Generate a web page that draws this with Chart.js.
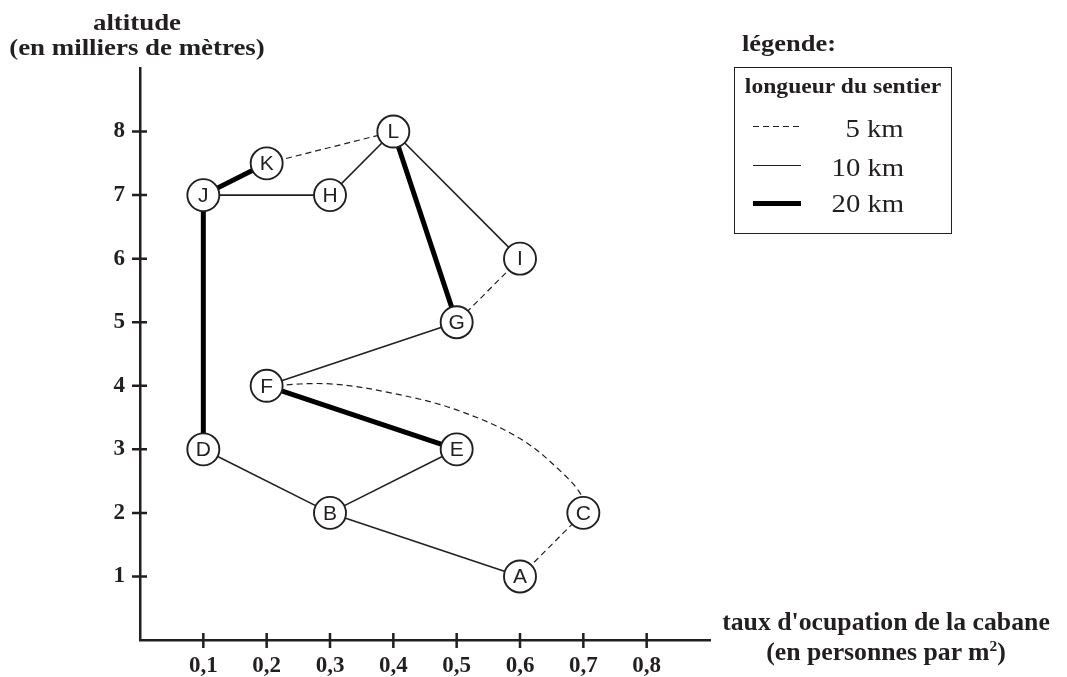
<!DOCTYPE html>
<html>
<head>
<meta charset="utf-8">
<script src="https://cdn.jsdelivr.net/npm/chart.js@4.4.1/dist/chart.umd.min.js"></script>
<style>
  html, body { margin: 0; padding: 0; background: #fff; }
  #wrap { position: relative; width: 1067px; height: 677px; overflow: hidden; }
  #chart { position: absolute; left: 0; top: 0; }
  .serif { position: absolute; font-family: "Liberation Serif", "DejaVu Serif", serif; color: #231f20; white-space: nowrap; }
  .b { font-weight: bold; }
  #yTitle { left: 0; top: 10px; width: 274px; text-align: center; font-size: 24px; line-height: 25px; transform: scaleX(1.12); }
  #xTitle { left: 716px; top: 607px; width: 340px; text-align: center; font-size: 25px; line-height: 30px; transform: scaleX(1.03); }
  #xTitle sup { font-size: 15px; line-height: 0; }
  #legTitle { left: 742px; top: 32px; font-size: 23px; line-height: 23px; transform: scaleX(1.15); transform-origin: left; }
  #legBox { position: absolute; left: 734px; top: 67px; width: 216px; height: 165px; border: 1.5px solid #231f20; }
  #legHead { left: 0; top: 8px; width: 216px; text-align: center; font-size: 20px; line-height: 20px; transform: scaleX(1.18); }
  .s { position: absolute; left: 18px; width: 48px; }
  .dash { height: 1.3px; background: repeating-linear-gradient(to right, #231f20 0 6px, transparent 6px 10px); }
  .l { right: 47px; font-size: 25px; line-height: 25px; transform: scaleX(1.15); transform-origin: right; }
</style>
</head>
<body>
<div id="wrap">
  <canvas id="chart" width="1067" height="677"></canvas>
  <div id="yTitle" class="serif b">altitude<br>(en milliers de mètres)</div>
  <div id="xTitle" class="serif b">taux d'ocupation de la cabane<br>(en personnes par m<sup>2</sup>)</div>
  <div id="legTitle" class="serif b">légende:</div>
  <div id="legBox">
    <div id="legHead" class="serif b">longueur du sentier</div>
    <div class="s dash" style="top:58px"></div>
    <div class="serif l" style="top:48px">5 km</div>
    <div class="s" style="top:97px;border-top:1.6px solid #231f20"></div>
    <div class="serif l" style="top:87px">10 km</div>
    <div class="s" style="top:133px;border-top:5px solid #000"></div>
    <div class="serif l" style="top:123px">20 km</div>
  </div>
</div>
<script>
// --- data ---
const nodeNames = ['A', 'B', 'C', 'D', 'E', 'F', 'G', 'H', 'I', 'J', 'K', 'L'];
const nodeOccupation = [0.6, 0.3, 0.7, 0.1, 0.5, 0.2, 0.5, 0.3, 0.6, 0.1, 0.2, 0.4];
const nodeAltitude = [1, 2, 2, 3, 3, 4, 5, 7, 6, 7, 7.5, 8];

// trails: [from, to, length in km]
const trails = [
  ['K', 'L', 5], ['J', 'K', 20], ['J', 'H', 10], ['H', 'L', 10],
  ['L', 'I', 10], ['L', 'G', 20], ['I', 'G', 5], ['F', 'G', 10],
  ['F', 'E', 20], ['D', 'J', 20], ['D', 'B', 10], ['B', 'E', 10],
  ['B', 'A', 10], ['A', 'C', 5]
];

// the curved 5 km trail from F to C
const curveOccupation = [0.2, 0.3, 0.4, 0.5, 0.6, 0.67, 0.7, 0.7];
const curveAltitude = [4.0, 4.03, 3.88, 3.62, 3.17, 2.6, 2.22, 2.0];

const xTickValues = [0.1, 0.2, 0.3, 0.4, 0.5, 0.6, 0.7, 0.8];
const yTickValues = [1, 2, 3, 4, 5, 6, 7, 8];

const INK = '#231f20';
const trailStyle = {
  5: { borderWidth: 1.2, borderDash: [6, 4], borderColor: INK },
  10: { borderWidth: 1.6, borderDash: [], borderColor: INK },
  20: { borderWidth: 5, borderDash: [], borderColor: '#000' }
};

function nodePoint(name) {
  const i = nodeNames.indexOf(name);
  return { x: nodeOccupation[i], y: nodeAltitude[i] };
}

const datasets = trails.map(([a, b, km]) => ({
  label: `${a}-${b}`,
  data: [nodePoint(a), nodePoint(b)],
  showLine: true,
  pointRadius: 0,
  order: 2,
  ...trailStyle[km]
}));

datasets.push({
  label: 'F-C',
  data: curveOccupation.map((x, i) => ({ x, y: curveAltitude[i] })),
  showLine: true,
  pointRadius: 0,
  tension: 0.35,
  order: 2,
  ...trailStyle[5]
});

datasets.push({
  label: 'cabanes',
  data: nodeNames.map(nodePoint),
  showLine: false,
  pointRadius: 16,
  pointBackgroundColor: '#fff',
  pointBorderColor: INK,
  pointBorderWidth: 1.9,
  order: 0
});

// letters inside the circles + tick marks crossing the axes
const nodeLabels = {
  id: 'nodeLabels',
  afterDatasetsDraw(chart) {
    const ctx = chart.ctx;
    const meta = chart.getDatasetMeta(chart.data.datasets.length - 1);
    ctx.save();
    ctx.font = '21px "Liberation Sans", Arial, sans-serif';
    ctx.fillStyle = INK;
    ctx.textAlign = 'center';
    ctx.textBaseline = 'middle';
    meta.data.forEach((pt, i) => ctx.fillText(nodeNames[i], pt.x, pt.y + 1));
    ctx.restore();
  },
  afterDraw(chart) {
    const { ctx, scales: { x, y } } = chart;
    ctx.save();
    ctx.strokeStyle = INK;
    ctx.lineWidth = 2.5;
    ctx.beginPath();
    xTickValues.forEach(v => {
      const px = x.getPixelForValue(v);
      ctx.moveTo(px, y.bottom - 7);
      ctx.lineTo(px, y.bottom + 8);
    });
    yTickValues.forEach(v => {
      const py = y.getPixelForValue(v);
      ctx.moveTo(x.left - 8, py);
      ctx.lineTo(x.left + 7, py);
    });
    ctx.stroke();
    ctx.restore();
  }
};

const tickFont = { family: '"Liberation Serif", "DejaVu Serif", serif', weight: 'bold', size: 23 };

new Chart(document.getElementById('chart'), {
  type: 'scatter',
  data: { datasets },
  options: {
    responsive: false,
    animation: false,
    layout: { padding: { left: 100, top: 68, right: 357, bottom: 0 } },
    plugins: { legend: { display: false }, tooltip: { enabled: false } },
    scales: {
      x: {
        type: 'linear',
        min: 0,
        max: 0.9,
        afterBuildTicks: s => { s.ticks = xTickValues.map(value => ({ value })); },
        afterFit: s => { s.height = 37; },
        grid: { display: true, drawOnChartArea: false, drawTicks: false },
        border: { display: true, width: 2.5, color: INK },
        ticks: {
          color: INK,
          font: tickFont,
          padding: 12,
          maxRotation: 0,
          autoSkip: false,
          callback: v => v.toFixed(1).replace('.', ',')
        }
      },
      y: {
        type: 'linear',
        min: 0,
        max: 9,
        afterBuildTicks: s => { s.ticks = yTickValues.map(value => ({ value })); },
        afterFit: s => { s.width = 40; },
        grid: { display: true, drawOnChartArea: false, drawTicks: false },
        border: { display: true, width: 2.5, color: INK },
        ticks: { color: INK, font: tickFont, padding: 15, autoSkip: false }
      }
    }
  },
  plugins: [nodeLabels]
});
</script>
</body>
</html>
